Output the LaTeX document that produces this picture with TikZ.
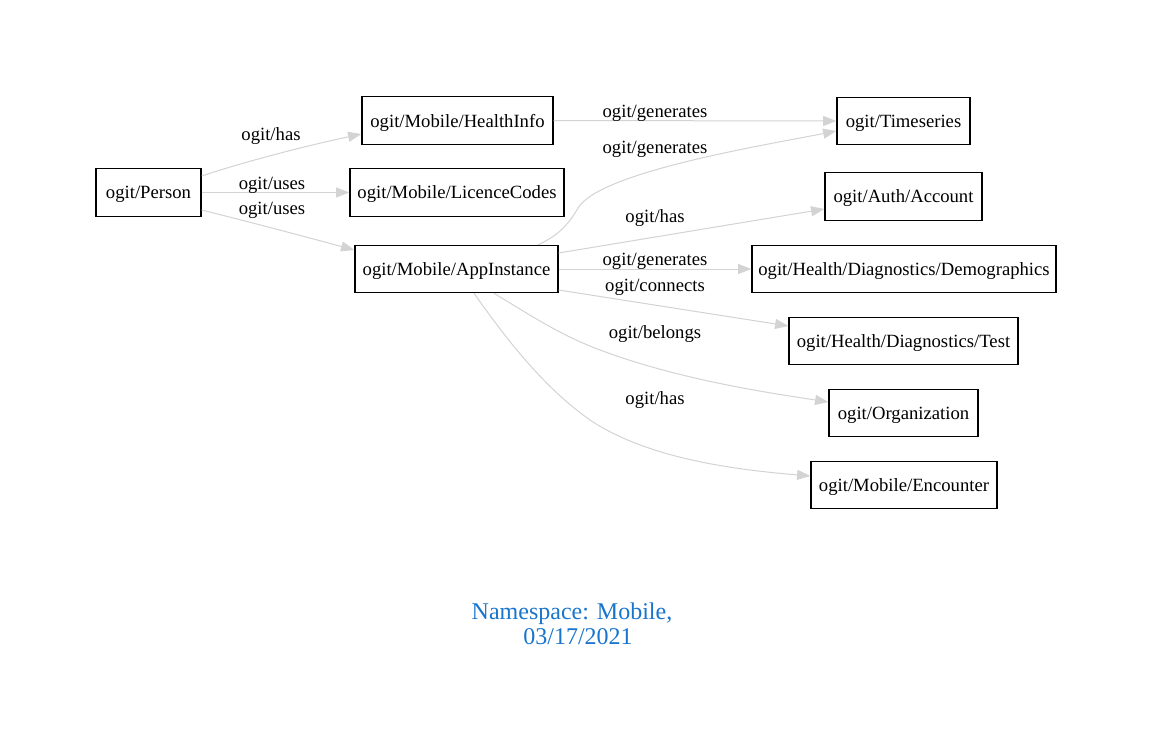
\documentclass[tikz,border=0pt]{standalone}
\usepackage{fontspec}
\setmainfont{Liberation Serif}
\usetikzlibrary{arrows.meta}
\definecolor{edgegray}{HTML}{D3D3D3}
\definecolor{titleblue}{HTML}{1874CD}
\begin{document}
\begin{tikzpicture}[x=0.75pt,y=-0.75pt,
  box/.style={draw,line width=0.9pt,minimum height=35.5pt,inner sep=0pt,text depth=0pt,font=\fontsize{14}{16}\selectfont},
  lbl/.style={font=\fontsize{14}{16}\selectfont,inner sep=0pt,text depth=0pt},
  edge/.style={draw=edgegray,line width=0.75pt,-{Triangle[length=10pt,width=7.5pt]}},
  ttl/.style={font=\fontsize{18}{20}\selectfont,text=titleblue,inner sep=0pt,text depth=0pt}]
\useasboundingbox (0,0) rectangle (1152,753);
% nodes
\node[box,minimum width=78.75pt] (person) at (148.5,192.5) {ogit/Person};
\node[box,minimum width=143.25pt] (health) at (457.5,120.5) {ogit/Mobile/HealthInfo};
\node[box,minimum width=160.5pt] (licence) at (457,192.5) {ogit/Mobile/LicenceCodes};
\node[box,minimum width=152.25pt] (app) at (456.5,269) {ogit/Mobile/AppInstance};
\node[box,minimum width=99.75pt] (times) at (903.5,121) {ogit/Timeseries};
\node[box,minimum width=117.75pt] (account) at (903.5,196.5) {ogit/Auth/Account};
\node[box,minimum width=228pt] (demo) at (904,269) {ogit/Health/Diagnostics/Demographics};
\node[box,minimum width=171.75pt] (test) at (903.5,341) {ogit/Health/Diagnostics/Test};
\node[box,minimum width=111.75pt] (org) at (903.5,413) {ogit/Organization};
\node[box,minimum width=139.5pt] (enc) at (904,485) {ogit/Mobile/Encounter};
% edges
\draw[edge] (person.east |- 0,176) .. controls (250,160) and (310,145) .. (health.west |- 0,134);
\draw[edge] (person.east) -- (licence.west);
\draw[edge] (person.east |- 0,210) .. controls (250,222) and (310,238) .. (app.west |- 0,250);
\draw[edge] (health.east) -- (times.west);
\draw[edge] (app.north -| 538,0) .. controls (560,235) and (570,222) .. (578,208) .. controls (600,172) and (760,146) .. (times.west |- 0,131);
\draw[edge] (app.east |- 0,253) -- (account.west |- 0,209);
\draw[edge] (app.east) -- (demo.west);
\draw[edge] (app.east |- 0,290) -- (test.west |- 0,326);
\draw[edge] (app.south -| 494,0) .. controls (530,315) and (560,335) .. (600,350) .. controls (680,380) and (770,393) .. (org.west |- 0,402);
\draw[edge] (app.south -| 474,0) .. controls (500,330) and (540,385) .. (590,420) .. controls (650,460) and (740,470) .. (enc.west |- 0,476);
% labels
\node[lbl] (l1) at (271,134) {ogit/has};
\node[lbl] (l2) at (272,183) {ogit/uses};
\node[lbl] (l3) at (272,208) {ogit/uses};
\node[lbl] (l4) at (655,111) {ogit/generates};
\node[lbl] (l5) at (655,147) {ogit/generates};
\node[lbl] (l6) at (655,216) {ogit/has};
\node[lbl] (l7) at (655,259) {ogit/generates};
\node[lbl] (l8) at (655,285) {ogit/connects};
\node[lbl] (l9) at (655,332) {ogit/belongs};
\node[lbl] (l10) at (655,398) {ogit/has};
% title
\node[ttl] (title1) at (572,611) {Namespace: Mobile,};
\node[ttl] (title2) at (578,637) {03/17/2021};
\end{tikzpicture}
\end{document}
